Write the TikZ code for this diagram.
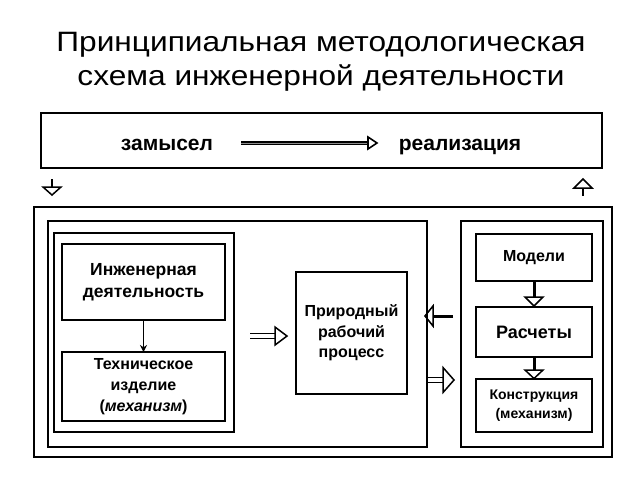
\documentclass[tikz,border=0pt]{standalone}
\usepackage{fontspec}
\setmainfont{Liberation Sans}
\newfontfamily\titlefont[FakeStretch=1.13]{Liberation Sans}
\usetikzlibrary{calc,arrows.meta}
\begin{document}
\begin{tikzpicture}[x=1pt,y=-1pt,
  box/.style={draw, line width=1.8pt, inner sep=0pt, outer sep=0pt, align=center, anchor=north west},
  lbl/.style={font=\bfseries\fontsize{21}{24}\selectfont, anchor=base},
  ttl/.style={font=\titlefont\fontsize{28}{34}\selectfont, anchor=base},
  arr/.style={line width=1.5pt, line join=miter},
  thick shaft/.style={line width=3pt}]
\path[use as bounding box, fill=white] (0,0) rectangle (640,480);
\node[ttl] (title1) at (321,51) {Принципиальная методологическая};
\node[ttl] (title2) at (321,85) {схема инженерной деятельности};
% top band
\node[box, minimum width=561, minimum height=55] (top) at (41,113) {};
\node[lbl] (zam) at (167,150) {замысел};
\node[lbl] (real) at (460,150) {реализация};
\coordinate (za) at (241,143);
\coordinate (zb) at (377,143);
\draw[line width=1.5pt, double=black!45, double distance=1pt] (za) -- ($(zb)+(-9,0)$);
\draw[line width=1.6pt] ($(zb)+(-9,-6)$) -- (zb) -- ($(zb)+(-9,6)$) -- cycle;
% small arrows under band
\coordinate (sd) at ($(top.south west)+(11,11)$);
\draw[arr] (sd) -- ++(0,8);
\draw[arr] ($(sd)+(-9,8)$) -- ++(18,0) -- ($(sd)+(0,16)$) -- cycle;
\coordinate (su) at ($(top.south east)+(-19,11)$);
\draw[arr] ($(su)+(0,9)$) -- ++(0,8);
\draw[arr] ($(su)+(-9,9)$) -- ++(18,0) -- (su) -- cycle;
% frames
\node[box, minimum width=578, minimum height=250] (outer) at (34,207) {};
\node[box, minimum width=379, minimum height=226] (mid) at (48,221) {};
\node[box, minimum width=180, minimum height=199] (lbox) at (54,233) {};
\node[box, minimum width=163, minimum height=76, font=\bfseries\fontsize{17.5}{22}\selectfont] (ing) at (62,244) {Инженерная\\деятельность};
\node[box, minimum width=163, minimum height=69, font=\bfseries\fontsize{16}{21}\selectfont] (tech) at (62,352) {Техническое\\изделие\\(\textit{механизм})};
\draw[line width=1.8pt, -{Stealth[length=7pt,width=7pt]}] (ing.south) -- (tech.north);
\node[box, minimum width=111, minimum height=122, font=\bfseries\fontsize{16}{20.5}\selectfont] (proc) at (296,272) {Природный\\рабочий\\процесс};
% hollow arrow lbox -> proc
\coordinate (h1) at ($(lbox.east)+(16,3.5)$);
\draw[arr] ($(h1)+(0,-2.5)$) -- ++(25,0) ++(0,5) -- ++(-25,0) -- cycle;
\draw[arr] ($(h1)+(25,-9)$) -- ++(0,18) -- ($(h1)+(37,0)$) -- cycle;
% right box
\node[box, minimum width=142, minimum height=226] (rbox) at (461,221) {};
\node[box, minimum width=116, minimum height=47, font=\bfseries\fontsize{16}{19}\selectfont] (mod) at (476,234) {Модели};
\node[box, minimum width=116, minimum height=50, font=\bfseries\fontsize{18}{22}\selectfont] (rasch) at (476,307) {Расчеты};
\node[box, minimum width=116, minimum height=53, font=\bfseries\fontsize{14}{19}\selectfont] (cons) at (476,379) {Конструкция\\(механизм)};
% down arrows between right boxes
\draw[thick shaft] (mod.south) -- ++(0,16);
\draw[arr] ($(mod.south)+(-9,16)$) -- ++(18,0) -- ($(mod.south)+(0,25)$) -- cycle;
\draw[thick shaft] (rasch.south) -- ++(0,13);
\draw[arr] ($(rasch.south)+(-9,13)$) -- ++(18,0) -- ($(rasch.south)+(0,21.5)$) -- cycle;
% left arrow rbox -> mid
\coordinate (la) at ($(rbox.west)+(-8,-18)$);
\draw[thick shaft] (la) -- ++(-20,0);
\draw[arr] ($(la)+(-20,-10)$) -- ++(0,20) -- ($(la)+(-28,0)$) -- cycle;
% hollow arrow mid -> rbox
\coordinate (ra) at ($(mid.east)+(0,46)$);
\draw[arr] ($(ra)+(1,-2.5)$) -- ++(15,0) ++(0,5) -- ++(-15,0);
\draw[arr] ($(ra)+(16,-12.5)$) -- ++(0,25) -- ($(ra)+(27,0)$) -- cycle;
\end{tikzpicture}
\end{document}
